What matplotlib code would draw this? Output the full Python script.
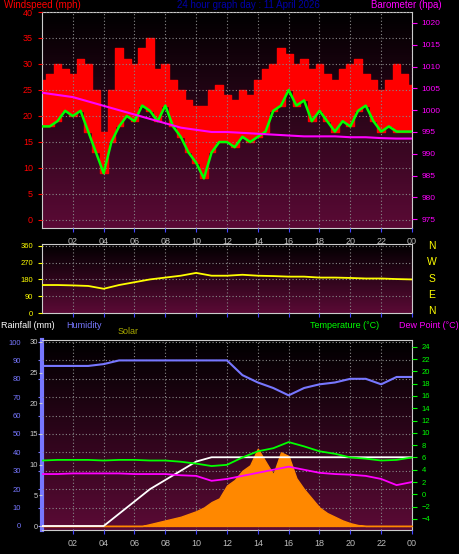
import numpy as np
import matplotlib
matplotlib.use("Agg")
import matplotlib.pyplot as plt
from matplotlib.colors import LinearSegmentedColormap

hh = [i*0.5 for i in range(49)]
wind_avg = [18,18,19,21,20,21,17,13,9,15,18,20,19,22,21,19,22,18,16,13,11,8,13,15,15,14,16,15,16,17,21,22,25,22,23,19,21,19,17,19,18,21,22,19,17,18,17,17,17]
wind_gust = [27,28,30,29,28,31,30,25,17,25,33,31,30,33,35,29,30,27,25,23,22,22,25,26,24,23,25,24,27,29,30,33,32,30,31,29,30,28,27,29,30,31,28,27,25,27,30,28,26]
hrs = list(range(25))
baro = [1004,1003.5,1003,1002,1001,1000,999,998,997,996,995.5,995,995,994.8,994.6,994.4,994.2,994,994,994,993.8,993.8,993.6,993.5,993.5]
wdir = [150,150,148,145,130,150,165,180,190,200,215,200,200,205,200,198,195,195,190,190,188,185,185,182,180]
hum = [87,87,87,87,88,90,90,90,90,90,90,90,90,82,78,75,71,75,77,78,80,80,77,81,81]
temp = [5.5,5.6,5.6,5.6,5.5,5.6,5.6,5.5,5.5,5.3,5.0,4.6,4.8,6.0,7.0,7.5,8.5,7.8,7.0,6.6,6.0,5.8,5.5,5.6,6.0]
dew = [3.3,3.3,3.4,3.4,3.4,3.4,3.3,3.3,3.3,3.1,3.0,2.2,2.5,3.0,3.5,4.0,4.5,4.0,3.5,3.3,3.2,3.0,2.5,1.5,2.0]
rain = [0,0,0,0,0,2,4,6,7.5,9,10.5,11.2,11.2,11.2,11.2,11.2,11.2,11.2,11.2,11.2,11.2,11.2,11.2,11.2,11.2]
solar = [0]*14 + [10,20,30,40,50,65,80,100,130,150,220,250,300,330,420,350,280,400,380,260,200,150,100,70,50,30,15,5] + [0]*7
xticks = list(range(2,25,2))
xlabels = ["%02d" % (h % 24) for h in xticks]

plt.rcParams['font.family'] = ['Liberation Sans', 'DejaVu Sans']
fig = plt.figure(figsize=(4.6,5.54), dpi=100, facecolor="black")
cmap = LinearSegmentedColormap.from_list("bg", ["#000000", "#5a0a35"])
W, H = 460, 554
def ax_at(x0,y0,x1,y1):
    return fig.add_axes([x0/W, 1-y1/H, (x1-x0)/W, (y1-y0)/H])

def style(ax, ylim, labels=True):
    ax.set_xlim(0,24); ax.set_ylim(*ylim)
    grad = np.linspace(0,1,100).reshape(-1,1)
    ax.imshow(grad, extent=[0,24,ylim[0],ylim[1]], aspect="auto", cmap=cmap, origin="upper", zorder=0)
    ax.set_facecolor("black")
    ax.grid(True, color="#888888", ls=(0,(1,2)), lw=0.8)
    ax.set_axisbelow(False)
    ax.set_xticks(xticks); ax.set_xticklabels(xlabels if labels else [])
    for s in ax.spines.values(): s.set_color("#cccccc")
    ax.tick_params(colors="#cccccc", labelsize=6.5, length=3)
    ax.tick_params(axis="x", colors="#4444ff", labelcolor="#bbbbbb")

# top
a1 = ax_at(42,12,412,228)
style(a1,(-1.54,40))
a1.fill_between(hh, wind_avg, wind_gust, step="mid", color="#ff0000", zorder=2)
a1.plot(hh, wind_avg, color="#00ff00", lw=1.8, zorder=3)
a1.set_yticks(range(0,41,5))
a1.tick_params(axis="y", colors="#ff0000")
b1 = a1.twinx(); b1.set_ylim(973,1022.5)
b1.plot(hrs, baro, color="#ff00ff", lw=1.5, zorder=4)
b1.set_yticks(range(975,1021,5))
b1.tick_params(axis="y", colors="#ff00ff", labelsize=6)
for s in b1.spines.values(): s.set_visible(False)
fig.text(4/W, 1-4.5/H, "Windspeed (mph)", color="#ff0000", fontsize=7, va="center")
fig.text(248/W, 1-4.5/H, "24 hour graph day : 11 April 2026", color="#0000aa", fontsize=7, va="center", ha="center")
fig.text(442/W, 1-4.5/H, "Barometer (hpa)", color="#ff00ff", fontsize=7, va="center", ha="right")

# middle
a2 = ax_at(42,244,412,313)
style(a2,(0,370), labels=False)
a2.plot(hrs, wdir, color="#ffff00", lw=1.3, zorder=3)
a2.set_yticks([0,90,180,270,360])
a2.tick_params(axis="y", colors="#ffff00", labelsize=5.5)
for i,l in enumerate(["N","W","S","E","N"]):
    fig.text(432/W, 1-(246+i*16.3)/H, l, color="#ffff00", fontsize=7.5, ha="center", va="center")

# bottom
a3 = ax_at(42,340,412,530)
style(a3,(-2.2,101.1))
a3.plot(hrs, hum, color="#7777ff", lw=1.5, zorder=4)
a3.set_yticks(range(0,101,10))
a3.tick_params(axis="y", colors="#7777ff", labelsize=5.5, pad=12)
a3.spines["left"].set_color("#7777ff"); a3.spines["left"].set_linewidth(3)
s3 = a3.twinx(); s3.set_ylim(-22,1011); s3.axis("off")
s3.fill_between(hh, 0, solar, color="#ff8800", zorder=2)
r3 = a3.twinx(); r3.set_ylim(-0.65,30.3)
r3.plot(hrs, rain, color="#ffffff", lw=1.3, zorder=3)
r3.yaxis.set_ticks_position("left")
r3.set_yticks(range(0,31,5))
r3.tick_params(axis="y", colors="#cccccc", labelsize=5.5, pad=1, length=2)
for s in r3.spines.values(): s.set_visible(False)
t3 = a3.twinx(); t3.set_ylim(-5.8,25.1)
t3.plot(hrs, temp, color="#00ff00", lw=1.3, zorder=5)
t3.plot(hrs, dew, color="#ff00ff", lw=1.3, zorder=5)
t3.set_yticks(range(-4,25,2))
t3.tick_params(axis="y", colors="#00ff00", labelsize=5.5)
for s in t3.spines.values(): s.set_visible(False)
fig.text(1/W, 1-326/H, "Rainfall (mm)", color="#ffffff", fontsize=6.5, va="center")
fig.text(66/W, 1-326/H, "Humidity", color="#7777ff", fontsize=6.5, va="center")
fig.text(118/W, 1-331/H, "Solar", color="#aaaa00", fontsize=6.5, va="center")
fig.text(310/W, 1-326/H, "Temperature (°C)", color="#00ff00", fontsize=6.5, va="center")
fig.text(459/W, 1-326/H, "Dew Point (°C)", color="#ff00ff", fontsize=6.5, va="center", ha="right")

fig.savefig("out.png", dpi=100, facecolor="black")
